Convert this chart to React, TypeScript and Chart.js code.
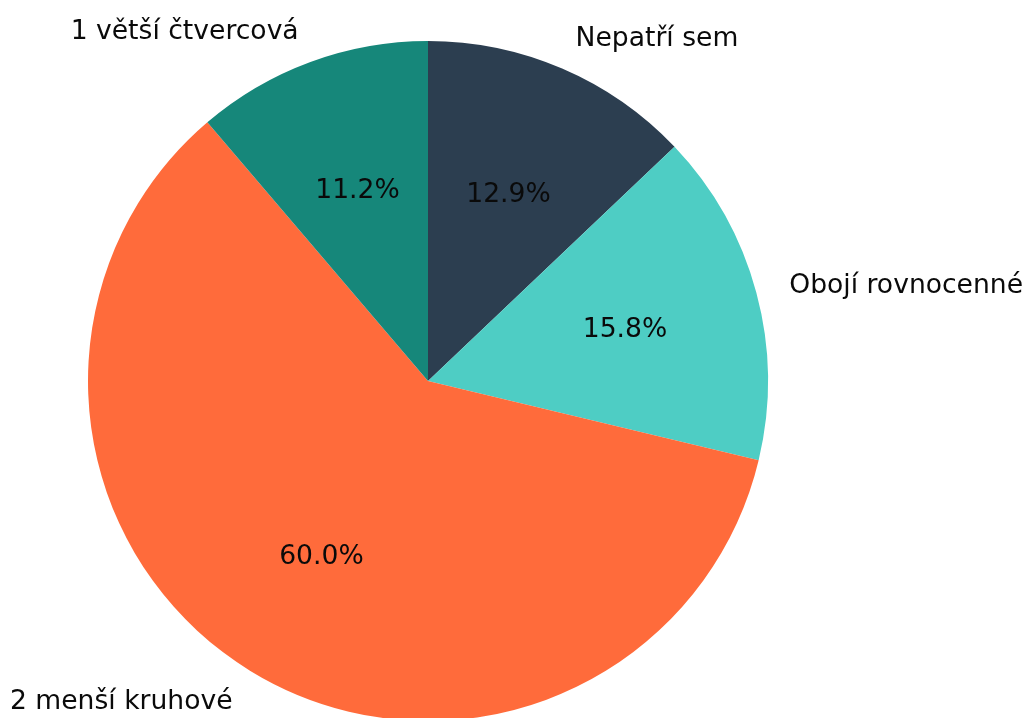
import React, { useEffect, useRef } from "react";
import { Chart, registerables } from "chart.js";

Chart.register(...registerables);

// Clockwise from the top (Chart.js draws clockwise)
const categories = ["Nepatří sem", "Obojí rovnocenné", "2 menší kruhové", "1 větší čtvercová"];
const values = [12.91, 15.83, 60.02, 11.24];
const colors = ["#2C3E50", "#4ECDC4", "#FF6B3B", "#16877A"];

const FONT = '26.6px "DejaVu Sans", sans-serif';

const labelPlugin = {
  id: "pieLabels",
  afterDatasetsDraw(chart: any) {
    const ctx = chart.ctx;
    const meta = chart.getDatasetMeta(0);
    const data = chart.data.datasets[0].data as number[];
    const total = data.reduce((a, b) => a + b, 0);
    ctx.save();
    ctx.font = FONT;
    ctx.fillStyle = "#0a0a0a";
    ctx.textBaseline = "middle";
    meta.data.forEach((arc: any, i: number) => {
      const { x, y, startAngle, endAngle, outerRadius } = arc.getProps(
        ["x", "y", "startAngle", "endAngle", "outerRadius"],
        true
      );
      const mid = (startAngle + endAngle) / 2;
      const c = Math.cos(mid);
      const s = Math.sin(mid);
      // outer category label
      const lx = x + c * outerRadius * 1.1;
      const ly = y + s * outerRadius * 1.1 + 2;
      ctx.textAlign = c < 0 ? "right" : "left";
      ctx.fillText(chart.data.labels[i], lx, ly);
      // percentage label
      const px = x + c * outerRadius * 0.6;
      const py = y + s * outerRadius * 0.6 + 2;
      ctx.textAlign = "center";
      ctx.fillText(((data[i] / total) * 100).toFixed(1) + "%", px, py);
    });
    ctx.restore();
  },
};

export default function App() {
  const ref = useRef<HTMLCanvasElement>(null);
  useEffect(() => {
    if (!ref.current) return;
    const chart = new Chart(ref.current, {
      type: "pie",
      data: {
        labels: categories,
        datasets: [
          {
            data: values,
            backgroundColor: colors,
            borderWidth: 0,
            clip: false,
          } as any,
        ],
      },
      options: {
        responsive: false,
        animation: false,
        radius: 340,
        rotation: 0,
        layout: { padding: { left: 0, right: 169, top: 44, bottom: 0 } },
        plugins: {
          legend: { display: false },
          tooltip: { enabled: false },
        },
      } as any,
      plugins: [labelPlugin],
    });
    return () => chart.destroy();
  }, []);
  return (
    <div style={{ position: "fixed", left: 0, top: 0, width: 1025, height: 718, background: "#fff" }}>
      <canvas ref={ref} width={1025} height={718} style={{ display: "block" }} />
    </div>
  );
}
